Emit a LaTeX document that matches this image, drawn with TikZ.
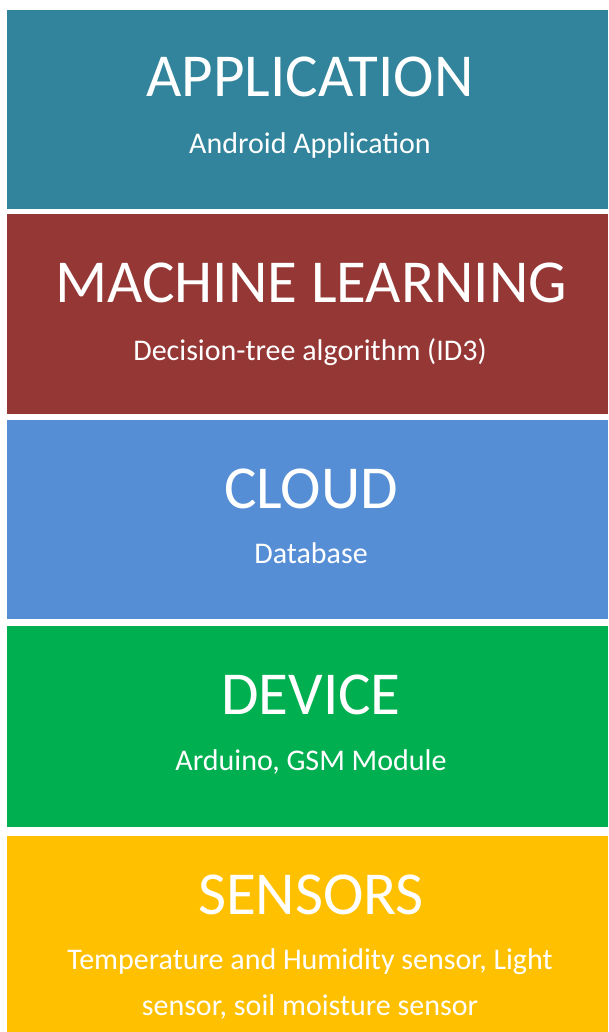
\documentclass[tikz,border=0pt]{standalone}
\usepackage{fontspec}
\setmainfont{Carlito}
\definecolor{cApp}{HTML}{31849B}
\definecolor{cMl}{HTML}{953735}
\definecolor{cCloud}{HTML}{558ED5}
\definecolor{cDev}{HTML}{00B050}
\definecolor{cSen}{HTML}{FFC000}
\begin{document}
\begin{tikzpicture}[x=1pt,y=-1pt,
  title/.style={text=white,font=\fontsize{61}{61}\selectfont,anchor=base,inner sep=0},
  sub/.style={text=white,font=\fontsize{30}{46}\selectfont,anchor=base,inner sep=0,align=center}]
\useasboundingbox (0,0) rectangle (609,1032);
\fill[cApp] (7,10) rectangle (608,209);
\fill[cMl] (7,214) rectangle (608,414);
\fill[cCloud] (7,420) rectangle (608,619);
\fill[cDev] (7,626) rectangle (608,827);
\fill[cSen] (7,836) rectangle (608,1032);
\node[title] (t1) at (310,97) {APPLICATION};
\node[sub] (s1) at (310,154) {Android Application};
\node[title] (t2) at (311,302) {MACHINE LEARNING};
\node[sub] (s2) at (310,360) {Decision-tree algorithm (ID3)};
\node[title] (t3) at (311,508) {CLOUD};
\node[sub] (s3) at (311,563) {Database};
\node[title] (t4) at (311,714) {DEVICE};
\node[sub] (s4) at (311,770) {Arduino, GSM Module};
\node[title] (t5) at (311,914) {SENSORS};
\node[sub] (s5) at (310,1015) {Temperature and Humidity sensor, Light\\sensor, soil moisture sensor};
\end{tikzpicture}
\end{document}
